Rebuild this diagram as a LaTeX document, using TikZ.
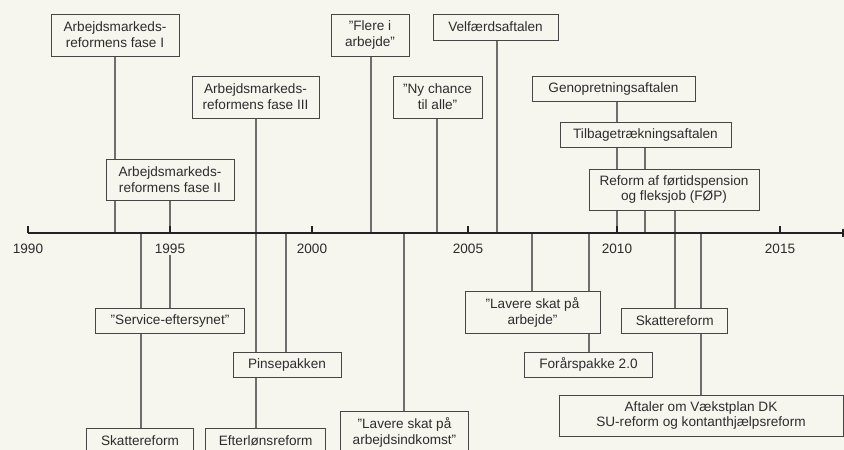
\documentclass[tikz,border=0pt]{standalone}
\usepackage{fontspec}
\setmainfont{Liberation Sans}
\usepackage{tikz}
\usepackage{xcolor}
\usetikzlibrary{backgrounds}
\definecolor{BgCol}{RGB}{246,245,238}
\definecolor{RuleCol}{RGB}{35,35,35}
\definecolor{LinkCol}{RGB}{110,110,110}
\definecolor{BoxCol}{RGB}{70,70,70}
\definecolor{TxtCol}{RGB}{45,45,45}
\tikzset{
  tlaxis/.style={line width=1pt, draw=RuleCol},
  tltick/.style={line width=0.9pt, draw=RuleCol},
  tllink/.style={line width=1pt, draw=LinkCol},
  tlbox/.style={draw=BoxCol, line width=0.75pt, fill=BgCol, text=TxtCol, align=center,
    inner sep=0pt, minimum height=18.75pt, font=\fontsize{10.2}{11.8}\selectfont},
  tltwo/.style={tlbox, minimum height=31.5pt},
  tlyear/.style={fill=BgCol, text=TxtCol, inner sep=1pt, font=\fontsize{10.2}{11.8}\selectfont}
}

\begin{document}
\begin{tikzpicture}[x=0.75pt,y=-0.75pt]
  \useasboundingbox (0,0) rectangle (844,450);
  \clip (0,0) rectangle (844,450);

  % time axis
  \draw[tlaxis] (28,233) -- (843,233);
  \draw[tltick] (843,229) -- (843,237);
  \foreach \yr/\xx in {1990/28,1995/170,2000/312,2005/468,2010/617,2015/780} {
    \draw[tltick] (\xx,226) -- (\xx,233);
    \node[tlyear] (y\yr) at (\xx,249) {\yr};
  }
  \foreach \ev/\xx in {93/115,94/141,95/170,98/256,99/286,02/371,03/404,04/437,06/497,07/532,09/589,10/617,11/645,12/675,13/701}
    \coordinate (ax\ev) at (\xx,233);

  % above the axis
  \node[tltwo, minimum width=96pt] (fase1) at (115,35) {Arbejdsmarkeds-\\reformens fase I};
  \node[tltwo, minimum width=96pt, minimum height=30.75pt] (fase2) at (170,179.5) {Arbejdsmarkeds-\\reformens fase II};
  \node[tltwo, minimum width=95.25pt] (fase3) at (255.5,97) {Arbejdsmarkeds-\\reformens fase III};
  \node[tltwo, minimum width=58.5pt] (flere) at (370,35) {”Flere i\\arbejde”};
  \node[tlbox, minimum width=93.75pt, minimum height=19.5pt] (velf) at (495.5,27) {Velfærdsaftalen};
  \node[tltwo, minimum width=66.75pt] (chance) at (437.5,97) {”Ny chance\\til alle”};
  \node[tlbox, minimum width=122.25pt] (genop) at (613.5,88.5) {Genopretningsaftalen};
  \node[tlbox, minimum width=128.25pt] (tilbage) at (645.5,134.5) {Tilbagetrækningsaftalen};
  \node[tltwo, minimum width=127.5pt, minimum height=30.75pt] (foep) at (674,189.5) {Reform af førtidspension\\og fleksjob (FØP)};

  % below the axis
  \node[tlbox, minimum width=111.75pt] (service) at (170,320.7) {”Service-eftersynet”};
  \node[tlbox, minimum width=80.25pt] (skat94) at (140,440.5) {Skattereform};
  \node[tlbox, minimum width=90pt] (efterl) at (265.7,440.5) {Efterlønsreform};
  \node[tlbox, minimum width=81pt] (pinse) at (287,364.8) {Pinsepakken};
  \node[tltwo, minimum width=96pt] (skatind) at (404.5,432.3) {”Lavere skat på\\arbejdsindkomst”};
  \node[tltwo, minimum width=101.25pt] (skatarb) at (532.5,312.5) {”Lavere skat på\\arbejde”};
  \node[tlbox, minimum width=96pt] (foraar) at (588.5,364.8) {Forårspakke 2.0};
  \node[tlbox, minimum width=79.5pt] (skat12) at (674.7,320.7) {Skattereform};
  \node[tltwo, minimum width=213pt, minimum height=30.75pt] (vaekst) at (701,415.5) {Aftaler om Vækstplan DK\\SU-reform og kontanthjælpsreform};

  % links, behind the boxes
  \begin{scope}[on background layer]
    \fill[BgCol] (0,0) rectangle (844,450);
    \draw[tllink] (fase1) -- (ax93);
    \draw[tllink] (fase2) -- (ax95);
    \draw[tllink] (ax98 |- fase3.south) -- (ax98 |- efterl.north);
    \draw[tllink] (ax02 |- flere.south) -- (ax02);
    \draw[tllink] (ax06 |- velf.south) -- (ax06);
    \draw[tllink] (ax04 |- chance.south) -- (ax04);
    \draw[tllink] (ax10 |- genop.south) -- (ax10);
    \draw[tllink] (ax11 |- tilbage.south) -- (ax11);
    \draw[tllink] (ax12 |- foep.south) -- (ax12 |- skat12.north);
    \draw[tllink] (y1995) -- (service);
    \draw[tllink] (ax94) -- (ax94 |- skat94.north);
    \draw[tllink] (ax99) -- (ax99 |- pinse.north);
    \draw[tllink] (ax03) -- (ax03 |- skatind.north);
    \draw[tllink] (ax07) -- (ax07 |- skatarb.north);
    \draw[tllink] (ax09) -- (ax09 |- foraar.north);
    \draw[tllink] (ax13) -- (ax13 |- vaekst.north);
  \end{scope}
\end{tikzpicture}
\end{document}
